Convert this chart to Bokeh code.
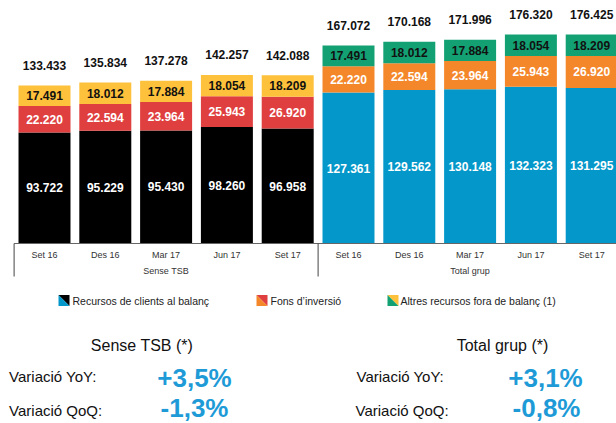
import numpy as np
from bokeh.plotting import figure
from bokeh.models import Range1d, ColumnDataSource
from bokeh.core.properties import value
from bokeh.embed import file_html
from bokeh.resources import INLINE

# ---------------- data ----------------
periods = ["Set 16", "Des 16", "Mar 17", "Jun 17", "Set 17"]
groups = ["Sense TSB", "Total grup"]
balance_sense = [93.722, 95.229, 95.430, 98.260, 96.958]
balance_total = [127.361, 129.562, 130.148, 132.323, 131.295]
fons = [22.220, 22.594, 23.964, 25.943, 26.920]
altres = [17.491, 18.012, 17.884, 18.054, 18.209]
totals_sense = [133.433, 135.834, 137.278, 142.257, 142.088]
totals_total = [167.072, 170.168, 171.996, 176.320, 176.425]
legend_labels = ["Recursos de clients al balanç", "Fons d’inversió",
                 "Altres recursos fora de balanç (1)"]
headings = ["Sense TSB (*)", "Total grup (*)"]
yoy = ["+3,5%", "+3,1%"]
qoq = ["-1,3%", "-0,8%"]

# ---------------- styling / layout ----------------
FONT = value("Liberation Sans")
W, H = 616, 423
PX_UNIT = 1.185      # pixels per thousand
SLOT = 60.8          # pixels per category slot
ORIGIN_X = 13.6      # x of first slot edge
BASE_Y = 243         # y of the zero line

def X(px):
    return (px - ORIGIN_X) / SLOT

def Y(py):
    return (BASE_Y - py) / PX_UNIT

dark_cols = ["#000000", "#DF3F3F", "#FEC13B"]
light_cols = ["#0497C9", "#F5872B", "#13A173"]
BLUE_TXT = "#1E9BD7"

p = figure(width=W, height=H, output_backend="svg", toolbar_location=None,
           x_range=Range1d(X(0), X(W)), y_range=Range1d(Y(H), Y(0)),
           x_axis_location=None, y_axis_location=None, min_border=0,
           outline_line_color=None)
p.xgrid.visible = False
p.ygrid.visible = False

n = len(periods)
xs = np.arange(2 * n) + 0.5
base = np.array(balance_sense + balance_total)
mid = np.array(fons + fons)
top = np.array(altres + altres)
tot = np.array(totals_sense + totals_total)
c_base = [dark_cols[0]] * n + [light_cols[0]] * n
c_mid = [dark_cols[1]] * n + [light_cols[1]] * n
c_top = [dark_cols[2]] * n + [light_cols[2]] * n

src = ColumnDataSource(dict(
    x=xs, b0=np.zeros(2 * n), b1=base, b2=base + mid, b3=base + mid + top,
    cb=c_base, cm=c_mid, ct=c_top,
    yb=base / 2, ym=base + mid / 2, yt=base + mid + top / 2, ytot=tot,
    lb=[f"{v:.3f}" for v in base], lm=[f"{v:.3f}" for v in mid],
    lt=[f"{v:.3f}" for v in top], ltot=[f"{v:.3f}" for v in tot],
))
BW = 0.855
p.vbar(x="x", bottom="b0", top="b1", width=BW, fill_color="cb", line_color=None, source=src)
p.vbar(x="x", bottom="b1", top="b2", width=BW, fill_color="cm", line_color=None, source=src)
p.vbar(x="x", bottom="b2", top="b3", width=BW, fill_color="ct", line_color=None, source=src)

lab = dict(text_font=FONT, text_font_size="12px", text_font_style="bold",
           text_align="center", text_baseline="middle", source=src)
p.text(x="x", y="yb", text="lb", text_color="white", **lab)
p.text(x="x", y="ym", text="lm", text_color="white", **lab)
p.text(x="x", y="yt", text="lt", text_color="#111111", **lab)
p.text(x="x", y="ytot", text="ltot", text_color="#111111", y_offset=-20, **lab)

# category axis drawn by hand
p.segment(x0=[0], y0=[0], x1=[2 * n], y1=[0], line_color="#666666", line_width=1)
p.segment(x0=[0, n, 2 * n], y0=[0] * 3, x1=[0, n, 2 * n], y1=[Y(276)] * 3,
          line_color="#444444", line_width=1)
p.text(x=xs, y=[Y(254)] * (2 * n), text=periods + periods, text_font=FONT,
       text_font_size="9px", text_color="#333333", text_align="center",
       text_baseline="middle")
p.text(x=[n / 2, n + n / 2], y=[Y(270)] * 2, text=groups, text_font=FONT,
       text_font_size="9px", text_color="#333333", text_align="center",
       text_baseline="middle")

# legend (split squares)
mk_x = [58, 256, 387]
txt_x = [72, 270, 400]
sq = 11
for i in range(3):
    x0, x1 = X(mk_x[i]), X(mk_x[i] + sq)
    yt, yb = Y(294.5), Y(294.5 + sq)
    p.patch([x0, x1, x1], [yt, yt, yb], fill_color=dark_cols[i], line_color=None)
    p.patch([x0, x0, x1], [yt, yb, yb], fill_color=light_cols[i], line_color=None)
p.text(x=[X(v) for v in txt_x], y=[Y(300)] * 3, text=legend_labels, text_font=FONT,
       text_font_size="10.5px", text_color="#222222", text_align="left",
       text_baseline="middle")

# bottom summary
p.text(x=[X(141.5), X(502)], y=[Y(345)] * 2, text=headings, text_font=FONT,
       text_font_size="16px", text_color="#111111", text_align="center",
       text_baseline="middle")
p.text(x=[X(8.6), X(356)], y=[Y(376)] * 2, text=["Variació YoY:"] * 2, text_font=FONT,
       text_font_size="15px", text_color="#111111", text_align="left",
       text_baseline="middle")
p.text(x=[X(8.6), X(355)], y=[Y(410)] * 2, text=["Variació QoQ:"] * 2, text_font=FONT,
       text_font_size="15px", text_color="#111111", text_align="left",
       text_baseline="middle")
p.text(x=[X(194), X(545)], y=[Y(377)] * 2, text=yoy, text_font=FONT,
       text_font_size="26px", text_font_style="bold", text_color=BLUE_TXT,
       text_align="center", text_baseline="middle")
p.text(x=[X(194), X(546)], y=[Y(407)] * 2, text=qoq, text_font=FONT,
       text_font_size="26px", text_font_style="bold", text_color=BLUE_TXT,
       text_align="center", text_baseline="middle")

open("out.html", "w").write(file_html(p, INLINE))
